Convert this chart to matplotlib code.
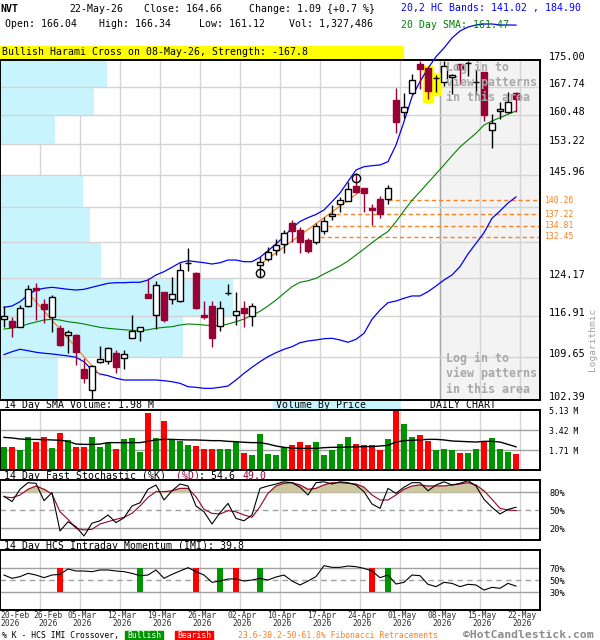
import numpy as np
import matplotlib.pyplot as plt
from matplotlib.patches import Rectangle
from matplotlib.ticker import FixedLocator, NullLocator
import matplotlib.transforms as mtrans

plt.rcParams['font.family'] = ['DejaVu Sans Mono', 'DejaVu Sans']

# ---- daily candles (23-Feb-26 .. 22-May-26) ----
opens = [116.28, 116.02, 114.93, 118.75, 122.22, 119.12, 116.65, 114.64, 113.39, 113.39,
         107.47, 104.01, 108.66, 108.88, 110.32, 109.35, 112.96, 114.15, 121.02, 117.08,
         121.46, 120.00, 119.74, 127.07, 125.15, 117.02, 118.75, 115.06, 121.23, 117.08,
         118.32, 116.89, 126.68, 127.87, 129.70, 130.94, 135.42, 133.86, 131.76, 131.35,
         133.71, 136.92, 139.46, 140.19, 143.48, 143.09, 138.65, 140.50, 140.57, 164.31,
         161.16, 166.06, 173.82, 172.89, 170.11, 169.12, 170.30, 173.82, 174.04, 168.91,
         171.80, 156.72, 161.49, 161.16, 166.04]
highs = [118.75, 116.76, 118.94, 122.75, 123.07, 120.00, 120.83, 115.24, 114.33, 113.62,
         109.35, 108.20, 111.49, 111.37, 110.79, 110.79, 117.08, 114.82, 124.04, 123.57,
         121.46, 124.24, 127.01, 130.05, 125.35, 119.74, 119.74, 119.74, 122.94, 121.46,
         119.74, 119.25, 128.37, 130.32, 131.91, 133.86, 135.99, 134.43, 132.12, 135.42,
         136.72, 139.24, 141.08, 144.45, 146.37, 143.09, 139.40, 141.30, 143.70, 167.53,
         166.06, 171.10, 174.73, 172.89, 170.92, 174.73, 171.19, 173.82, 174.73, 172.26,
         171.80, 160.65, 163.87, 166.32, 166.34]
lows = [114.93, 113.03, 114.82, 118.62, 116.15, 115.66, 114.03, 111.49, 110.32, 108.20,
        105.22, 102.55, 108.49, 108.37, 106.90, 107.52, 112.85, 112.43, 120.20, 114.51,
        115.84, 119.12, 119.50, 125.54, 118.19, 116.28, 111.37, 114.21, 120.83, 115.24,
        114.93, 115.06, 124.36, 127.47, 128.69, 129.03, 131.41, 129.15, 129.15, 130.94,
        132.97, 135.99, 137.78, 140.19, 141.83, 137.65, 134.85, 136.49, 139.40, 155.91,
        159.79, 165.80, 167.19, 164.49, 166.32, 168.06, 165.80, 168.43, 170.73, 165.61,
        158.96, 152.26, 159.46, 160.90, 161.12]
closes = [116.89, 114.93, 118.32, 121.91, 121.78, 118.19, 120.39, 111.67, 113.92, 110.49,
          106.06, 108.08, 109.17, 111.20, 107.91, 110.04, 114.21, 114.82, 120.31, 122.75,
          116.15, 121.02, 125.68, 127.13, 118.43, 116.76, 112.85, 118.32, 121.29, 117.87,
          117.39, 118.81, 127.27, 129.29, 130.73, 133.29, 133.71, 131.41, 129.56, 134.71,
          135.84, 137.22, 140.34, 142.80, 142.19, 141.83, 138.15, 137.35, 142.96, 158.79,
          162.59, 169.57, 172.53, 166.66, 170.19, 173.44, 170.92, 172.53, 174.12, 168.99,
          160.47, 158.39, 161.99, 163.72, 164.66]

# 20,2 HC bands and 20 day SMA
band_upper = [118.50, 118.75, 119.55, 120.83, 121.78, 122.11, 122.30, 122.11, 121.91, 121.78,
              121.91, 122.30, 122.69, 123.07, 123.19, 123.19, 123.27, 123.27, 123.71, 124.70,
              125.35, 126.22, 127.13, 127.53, 127.33, 127.13, 126.87, 127.13, 127.67, 127.67,
              127.33, 127.33, 128.22, 129.56, 130.94, 132.50, 134.29, 135.67, 136.49, 137.18,
              138.15, 139.97, 141.90, 144.50, 147.14, 147.91, 148.14, 148.31, 149.08, 153.05,
              158.79, 165.17, 169.12, 172.73, 175.91, 178.34, 181.18, 183.19, 184.34, 184.93,
              185.22, 185.22, 184.93, 184.93, 184.90]
band_lower = [109.99, 110.49, 110.91, 110.67, 110.39, 110.22, 110.10, 109.92, 109.75, 109.52,
              108.76, 107.35, 106.68, 106.39, 105.96, 105.67, 105.67, 105.67, 105.67, 105.67,
              105.55, 105.39, 105.12, 104.56, 104.46, 104.29, 104.29, 104.46, 104.67, 105.67,
              106.79, 107.81, 108.76, 109.63, 110.32, 110.91, 111.37, 112.07, 112.37, 112.55,
              112.78, 112.85, 112.55, 112.14, 112.67, 113.74, 116.28, 118.00, 119.37, 119.68,
              120.20, 120.64, 120.64, 121.46, 122.55, 123.71, 124.70, 126.35, 128.90, 131.08,
              133.29, 136.36, 137.93, 139.68, 141.02]
sma20 = [114.51, 114.69, 114.93, 115.42, 115.78, 116.15, 116.28, 116.15, 115.84, 115.66,
         115.42, 115.11, 114.82, 114.64, 114.51, 114.38, 114.28, 114.21, 114.38, 114.64,
         114.82, 114.93, 115.24, 115.42, 115.36, 115.24, 115.11, 115.11, 115.42, 115.84,
         116.33, 117.02, 117.76, 118.75, 119.87, 121.14, 122.41, 123.27, 123.57, 124.04,
         124.89, 125.68, 126.47, 127.47, 128.69, 129.91, 131.20, 132.45, 133.55, 135.63,
         137.99, 140.27, 142.19, 144.23, 146.22, 148.31, 150.50, 152.57, 154.26, 155.91,
         157.96, 158.96, 159.79, 160.65, 161.47]

# volume (millions) and 14 day SMA of volume
volume = [1.99, 1.97, 1.71, 2.85, 2.42, 2.85, 1.91, 3.19, 2.57, 1.97,
          1.97, 2.85, 1.97, 2.28, 1.80, 2.65, 2.74, 1.57, 4.90, 2.74,
          4.22, 2.62, 2.48, 2.17, 2.05, 1.80, 1.80, 1.80, 1.80, 2.42,
          1.43, 1.28, 3.08, 1.37, 1.28, 1.94, 2.14, 2.42, 2.14, 2.42,
          1.28, 1.71, 2.22, 2.85, 2.22, 2.14, 2.14, 1.71, 2.65, 5.30,
          3.93, 2.85, 2.99, 2.51, 1.71, 1.80, 1.71, 1.48, 1.48, 1.80,
          2.42, 2.71, 1.80, 1.57, 1.33]
vol_sma = [2.79, 2.74, 2.65, 2.62, 2.62, 2.59, 2.57, 2.54, 2.45, 2.22,
           2.19, 2.19, 2.22, 2.34, 2.34, 2.34, 2.34, 2.34, 2.45, 2.57,
           2.62, 2.62, 2.59, 2.57, 2.57, 2.54, 2.51, 2.51, 2.45, 2.42,
           2.37, 2.34, 2.34, 2.22, 2.05, 1.94, 1.88, 1.85, 1.85, 1.85,
           1.91, 1.94, 1.94, 1.97, 1.97, 2.00, 2.00, 2.05, 2.11, 2.39,
           2.51, 2.54, 2.57, 2.62, 2.62, 2.57, 2.48, 2.45, 2.42, 2.39,
           2.45, 2.45, 2.39, 2.19, 1.98]

# 14 day fast stochastic
stoch_k = [73, 64, 84.5, 95.5, 94.5, 65.5, 79, 15, 30.5, 22,
           6.7, 28, 32, 41.7, 29, 37, 56.7, 62, 84.5, 91.7,
           66.7, 82, 93.3, 90, 56.7, 47, 26.7, 45.5, 61, 36,
           32, 41.7, 86, 90, 93.3, 97, 95.5, 88, 75, 95.5,
           97, 93.3, 97, 95.5, 91.7, 80.5, 60, 52.8, 86, 77.8,
           88, 95.5, 95.5, 82, 91.7, 97, 91.7, 94.4, 98.9, 90,
           67.8, 54.4, 43.3, 51, 54.6]
stoch_d = [72, 70.5, 75, 84.5, 90, 84.5, 76.7, 47, 34.4, 19.4,
           16.7, 17.8, 26.7, 30.5, 34.4, 37.8, 44.4, 56.7, 71, 80.5,
           80.5, 82, 86, 86, 72, 51, 44.4, 43.3, 48.9, 47,
           41.7, 37.8, 55.6, 77.8, 90, 94.4, 95.5, 91.7, 84.5, 86,
           91.7, 95.5, 95.5, 94.4, 93.3, 88, 75, 66.7, 66.7, 75,
           84.5, 90, 91.7, 90, 90, 90, 91.7, 93.3, 95.5, 91.7,
           82, 67.8, 52.8, 50, 49.0]

# 14 day HCS intraday momentum
imi = [58.3, 52.8, 55.6, 61.1, 58.3, 53.9, 58.3, 59.4, 68.3, 65,
       65, 63.9, 66.7, 66.7, 65, 63.9, 61.1, 57.2, 58.3, 66.7,
       52.8, 59.4, 65, 70.6, 63.9, 58.3, 46.1, 48.3, 51.7, 51.7,
       48.3, 50, 52.8, 50, 55, 58.3, 48.3, 41.7, 48.3, 55.6,
       73.9, 71.1, 71.1, 73.3, 72.2, 69.4, 65, 53.9, 58.3, 43.3,
       46.1, 58.3, 57.2, 42.8, 38.9, 46.1, 44.4, 38.9, 42.8, 41.7,
       33.3, 37.8, 36.1, 44.4, 39.8]
imi_bullish = [17, 27, 32, 48]
imi_bearish = [7, 24, 29, 46]

# price grid, volume by price (millions per price band)
price_grid = [175.00, 167.74, 160.48, 153.22, 145.96, 138.70, 131.44, 124.17, 116.91, 109.65, 102.39]
price_labels = [175.00, 167.74, 160.48, 153.22, 145.96, 124.17, 116.91, 109.65, 102.39]
vbp_volume = [10.7, 9.4, 5.5, 0.0, 8.3, 9.0, 10.1, 23.3, 18.3, 5.8]

# fibonacci retracements and pattern marks
fib_levels = [140.26, 137.22, 134.81, 132.45]
fib_start = [48.0, 41.5, 40.5, 39.5]
trend_lines = [([3.25, 12.0], [120.83, 106.51]), ([32.25, 44.75], [127.07, 142.57])]
circle_idx = [32, 44]
circle_price = [125.12, 145.37]
harami_idx = [53, 54]

week_labels = ['20-Feb', '26-Feb', '05-Mar', '12-Mar', '19-Mar', '26-Mar', '02-Apr',
               '10-Apr', '17-Apr', '24-Apr', '01-May', '08-May', '15-May', '22-May']

MAROON = '#990033'
GREEN = '#009400'
RED = '#FF0000'
BLUE = '#0000FF'
ORANGE = '#FF8020'
CYAN = '#C8F5FD'
GRID = '#D4D4D4'
DGRID = '#A0A0A0'

W, H = 600, 640
fig = plt.figure(figsize=(6, 6.4), dpi=100)


def box(l, t, r, b):
    return [l / W, 1 - b / H, (r - l) / W, (b - t) / H]


def ftext(x, y, s, **kw):
    kw.setdefault('va', 'center')
    kw.setdefault('fontsize', 7.1)
    return fig.text(x / W, 1 - y / H, s, **kw)


def frect(l, t, r, b, color):
    fig.add_artist(Rectangle((l / W, 1 - b / H), (r - l) / W, (b - t) / H,
                             transform=fig.transFigure, color=color, zorder=0))


opens, highs, lows, closes = map(np.array, (opens, highs, lows, closes))
idx = np.arange(len(closes))
up = closes >= opens
XMIN, XMAX = -0.5, 67.0
week_lines = np.arange(len(week_labels)) * 5 - 0.5

ax = fig.add_axes(box(0, 60, 540, 400))
axv = fig.add_axes(box(0, 410, 540, 470))
axs = fig.add_axes(box(0, 480, 540, 540))
axi = fig.add_axes(box(0, 550, 540, 610))

for a in (ax, axv, axs, axi):
    a.set_xlim(XMIN, XMAX)
    a.set_xticks([])
    for sp in a.spines.values():
        sp.set_linewidth(1.4)
        sp.set_color('black')
    for xg in week_lines[1:]:
        a.axvline(xg, color=GRID, lw=1, zorder=0.5)

# ---- price panel ----
ax.set_yscale('log')
ax.set_ylim(102.39, 175.0)
ax.axvspan(54.5, XMAX, color='#F3F3F3', zorder=0.2)
ax.axvline(54.5, color='#A8A8A8', lw=1, zorder=0.6)

grid_hi = np.array(price_grid[:-1])
grid_lo = np.array(price_grid[1:])
ax.barh(grid_lo, np.array(vbp_volume) * 1.25, height=grid_hi - grid_lo, left=XMIN,
        align='edge', color=CYAN, zorder=1)
for p in price_grid[1:-1]:
    ax.axhline(p, color=GRID, lw=1, zorder=1.5)

for k in harami_idx:
    lo, hi = lows[k] * 0.996, highs[k] * 1.003
    ax.add_patch(Rectangle((k - 0.58, lo), 1.16, hi - lo, color='#FFFF00', zorder=2))

for lv, st in zip(fib_levels, fib_start):
    ax.plot([st, XMAX], [lv, lv], color=ORANGE, lw=1, ls=(0, (3, 2.2)), zorder=2.2)
    ax.text(1.009, lv, f'{lv:.2f}', transform=mtrans.blended_transform_factory(ax.transAxes, ax.transData),
            color=ORANGE, fontsize=5.9, va='center', ha='left', clip_on=False)

ax.plot(idx, band_upper, color=BLUE, lw=0.9, zorder=3, clip_on=False)
ax.plot(idx, band_lower, color=BLUE, lw=0.9, zorder=3)
ax.plot(idx, sma20, color='#008000', lw=0.8, zorder=3)
for xs, ys in trend_lines:
    ax.plot(xs, ys, color=ORANGE, lw=0.9, zorder=3.2)

for i in idx:
    col = 'black' if up[i] else MAROON
    ax.vlines(i, lows[i], highs[i], color=col, lw=1, zorder=4)
    lo, hi = min(opens[i], closes[i]), max(opens[i], closes[i])
    ax.add_patch(Rectangle((i - 0.33, lo), 0.66, hi - lo, facecolor='white' if up[i] else MAROON,
                           edgecolor=col, lw=1, zorder=5))

ax.plot(circle_idx, circle_price, 'o', mfc='none', mec='black', ms=6, mew=1, zorder=6)

ax.yaxis.tick_right()
ax.yaxis.set_major_locator(FixedLocator(price_labels))
ax.yaxis.set_minor_locator(NullLocator())
ax.set_yticklabels([f'{v:.2f}' for v in price_labels], fontsize=7.3)
ax.tick_params(axis='y', length=0, pad=6.5)
for t in ax.get_yticklabels():
    t.set_va('baseline')

login = 'Log in to\nview patterns\nin this area'
ax.text(55.3, 168.9, login, color='#A8A8A8', fontsize=8.4, fontweight='bold',
        va='center', ha='left', linespacing=1.22, zorder=7)
ax.text(55.3, 106.7, login, color='#A8A8A8', fontsize=8.4, fontweight='bold',
        va='center', ha='left', linespacing=1.22, zorder=7)

# ---- volume panel ----
axv.set_ylim(0, 5.13)
for lv in (1.71, 3.42):
    axv.axhline(lv, color=DGRID, lw=1, zorder=0.6)
axv.bar(idx, volume, width=0.75, color=[GREEN if u else RED for u in up], zorder=2)
axv.plot(idx, vol_sma, color='black', lw=1, zorder=3)
axv.yaxis.tick_right()
axv.set_yticks([1.71, 3.42, 5.13])
axv.set_yticklabels(['1.71 M', '3.42 M', '5.13 M'], fontsize=5.9)
axv.tick_params(axis='y', length=0, pad=6.5)

# ---- stochastic panel ----
sd = np.array(stoch_d)
axs.set_ylim(0, 100)
axs.fill_between(idx, 80, sd, where=sd > 80, interpolate=True, color='#CDC7A0', zorder=1)
axs.axhline(80, color=DGRID, lw=1, zorder=0.6)
axs.axhline(20, color=DGRID, lw=1, zorder=0.6)
axs.axhline(50, color=DGRID, lw=1, ls=(0, (4, 3)), zorder=0.6)
axs.plot(idx, stoch_d, color=MAROON, lw=0.8, zorder=2)
axs.plot(idx, stoch_k, color='black', lw=0.8, zorder=3)
axs.yaxis.tick_right()
axs.set_yticks([20, 50, 80])
axs.set_yticklabels(['20%', '50%', '80%'], fontsize=6.2)
axs.tick_params(axis='y', length=0, pad=6.5)

# ---- IMI panel ----
axi.set_ylim(0, 100)
axi.axhline(70, color=DGRID, lw=1, zorder=0.6)
axi.axhline(30, color=DGRID, lw=1, zorder=0.6)
axi.axhline(50, color=DGRID, lw=1, ls=(0, (4, 3)), zorder=0.6)
axi.bar(imi_bullish, 40, bottom=30, width=0.78, color=GREEN, zorder=2)
axi.bar(imi_bearish, 40, bottom=30, width=0.78, color=RED, zorder=2)
axi.plot(idx, imi, color='black', lw=0.8, zorder=3)
axi.yaxis.tick_right()
axi.set_yticks([30, 50, 70])
axi.set_yticklabels(['30%', '50%', '70%'], fontsize=6.2)
axi.tick_params(axis='y', length=0, pad=6.5)

# date labels sit just right of the week lines; the first two are nudged apart
label_pos = week_lines + 0.25
label_pos[0] = XMIN
label_pos[1] = week_lines[1] + 1.0
axi.set_xticks(label_pos)
axi.set_xticklabels([f'{w}\n2026' for w in week_labels], fontsize=5.8, color='#333333')
axi.tick_params(axis='x', length=0, pad=0.6)
for t in axi.get_xticklabels():
    t.set_linespacing(0.92)
axi.get_xticklabels()[0].set_ha('left')

# ---- header ----
ftext(0, 9.3, 'NVT', fontweight='bold')
ftext(69, 9.3, '22-May-26')
ftext(144, 9.3, 'Close: 164.66')
ftext(249, 9.3, 'Change: 1.09 {+0.7 %}')
ftext(5, 24, 'Open: 166.04')
ftext(99, 24, 'High: 166.34')
ftext(199, 24, 'Low: 161.12')
ftext(289, 24, 'Vol: 1,327,486')
ftext(401, 7.5, '20,2 HC Bands: 141.02 , 184.90', color=BLUE)
ftext(401, 25, '20 Day SMA: 161.47', color='#008000')
frect(0, 46, 403, 57.5, '#FFFF00')
ftext(2, 52, 'Bullish Harami Cross on 08-May-26, Strength: -167.8')

ftext(593, 339, 'Logarithmic', rotation=90, ha='center', color='#A0A0A0', fontsize=6.8)

# ---- panel captions ----
ftext(4, 405, '14 Day SMA Volume: 1.98 M')
frect(273, 400.5, 400, 410, CYAN)
ftext(276, 405, 'Volume By Price')
ftext(430, 405, 'DAILY CHART')
ftext(4, 476, '14 Day Fast Stochastic (%K)')
ftext(176, 476, '(%D)', color=MAROON)
ftext(199, 476, ': 54.6')
ftext(243, 476, '49.0', color=MAROON)
ftext(4, 546, '14 Day HCS Intraday Momentum (IMI): 39.8')

# ---- footer ----
ftext(2, 635.5, '% K - HCS IMI Crossover,', fontsize=5.9)
frect(125, 631, 163, 640, GREEN)
ftext(144, 635.5, 'Bullish', ha='center', color='white', fontsize=5.9)
frect(175, 631, 213, 640, RED)
ftext(194, 635.5, 'Bearish', ha='center', color='white', fontsize=5.9)
ftext(238, 635.5, '23.6-38.2-50-61.8% Fibonacci Retracements', color=ORANGE, fontsize=5.9)
ftext(463, 635.5, '\u00a9HotCandlestick.com', color='#8C8C8C', fontsize=8.2, fontweight='bold')

fig.savefig('out.png', dpi=100)
